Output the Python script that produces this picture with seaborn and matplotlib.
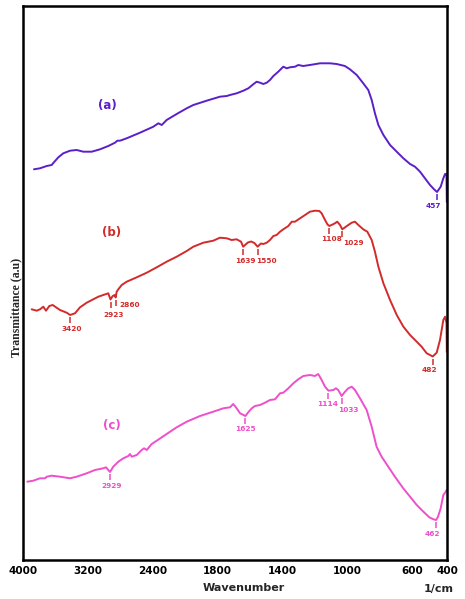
import numpy as np
import matplotlib
matplotlib.use("Agg")
import matplotlib.pyplot as plt
import seaborn as sns

# ---------------- data ----------------
A_WN = [3865, 3791, 3708, 3647, 3627, 3565, 3504, 3421, 3339, 3258, 3154, 3052, 2950, 2868,
        2839, 2806, 2724, 2560, 2397, 2350, 2318, 2272, 2178, 2084, 2022, 1897, 1782, 1740,
        1720, 1679, 1638, 1607, 1577, 1556, 1535, 1515, 1494, 1474, 1453, 1423, 1392, 1371,
        1351, 1320, 1300, 1269, 1217, 1166, 1105, 1064, 1013, 982, 940, 900, 869, 848, 828,
        807, 776, 735, 694, 653, 612, 583, 554, 526, 497, 474, 457, 436, 421, 411, 403, 401]
A_T = [390.7, 391.7, 394, 395, 397, 402.7, 406.7, 409.3, 410, 408.3, 408.3, 410.7, 414, 417.3,
       419.3, 419.3, 421.7, 427.3, 433.3, 436.7, 435, 440, 446, 451.7, 455, 459.3, 463.3, 464,
       465, 466.7, 469.3, 471.7, 475.7, 478.3, 477.3, 476, 477.3, 480, 484, 488.3, 493.3, 491.7,
       492.7, 493.3, 495, 494, 495.3, 496.7, 496.7, 496, 494, 490.7, 485, 476.7, 470, 460, 446.7,
       435, 425, 415, 408.3, 401.7, 396, 393.3, 388.3, 381.7, 375, 370.7, 368, 373.3, 381.7, 386,
       386, 358]

B_WN = [3893, 3831, 3791, 3750, 3717, 3676, 3634, 3594, 3545, 3462, 3420, 3360, 3298, 3216,
        3135, 3073, 3012, 2950, 2923, 2896, 2870, 2860, 2847, 2827, 2785, 2724, 2600, 2477,
        2365, 2272, 2178, 2084, 2022, 1928, 1835, 1782, 1740, 1710, 1679, 1652, 1639, 1610,
        1590, 1570, 1550, 1530, 1515, 1494, 1474, 1453, 1433, 1412, 1392, 1361, 1340, 1320,
        1289, 1258, 1228, 1197, 1170, 1156, 1135, 1120, 1108, 1074, 1060, 1043, 1029, 992,
        971, 951, 930, 900, 875, 848, 828, 807, 776, 735, 694, 653, 612, 573, 545, 516, 497,
        482, 459, 440, 421, 411, 403, 401]
B_T = [250.7, 249.3, 250.7, 253.3, 249.3, 254, 255, 252.7, 250, 247.3, 245, 246.7, 252.7, 257.3,
       260.7, 263.3, 265, 266.7, 260.5, 264, 265, 262.5, 268.3, 270.7, 275, 278.3, 282.7, 287.3,
       292.7, 298.3, 303.3, 309, 313.3, 317.3, 319.3, 322.3, 321.7, 320, 320.7, 318.3, 313.3, 317.5,
       318.5, 317, 313.3, 316.5, 316, 317.3, 320, 324, 325, 328.3, 330.7, 334, 338.3, 338.3,
       341.7, 345, 348.3, 349.3, 349, 346.7, 340, 335.5, 334, 336.7, 338.3, 335, 330.7, 335,
       337.3, 338.3, 335, 330.7, 328.3, 320, 308.3, 293.3, 276.7, 260, 245, 233.3, 225, 218.3,
       213.3, 206.7, 205, 203.5, 207.3, 220, 240, 243.3, 237, 208]

C_WN = [3947, 3873, 3791, 3729, 3708, 3647, 3545, 3421, 3339, 3216, 3114, 3012, 2978, 2950,
        2929, 2889, 2827, 2765, 2704, 2683, 2662, 2600, 2539, 2510, 2477, 2416, 2365, 2272,
        2178, 2084, 1959, 1835, 1761, 1720, 1700, 1679, 1658, 1625, 1605, 1586, 1566, 1535,
        1505, 1474, 1443, 1412, 1392, 1361, 1330, 1300, 1269, 1228, 1197, 1177, 1156, 1135,
        1114, 1084, 1068, 1054, 1033, 1012, 992, 971, 951, 920, 879, 848, 818, 787, 746, 705,
        654, 612, 573, 535, 501, 478, 462, 452, 436, 421, 411, 402]
C_T = [78.3, 79.3, 81.7, 81.7, 83.3, 84.3, 83.3, 81.7, 83.3, 86.7, 90, 91.7, 92.7, 90,
       88, 93.3, 98.3, 101.7, 104, 106, 103.3, 105, 110, 111.7, 110, 116, 119.3, 126,
       132.7, 138.3, 144, 148.3, 151.7, 152.7, 156, 151.7, 146.7, 144, 148.3, 151.7, 154, 155,
       157.3, 160, 160.7, 166.7, 167.3, 171.7, 176.7, 180.7, 184, 185, 184, 186, 180, 173.3,
       169.3, 170, 171.7, 170, 164, 168.3, 171.7, 173.3, 170, 161.7, 150, 133.3, 113.3, 103.3,
       93.3, 83.3, 71.7, 63.3, 55, 48.3, 42.7, 40.7, 40, 43, 51.7, 65, 67.3, 70]

PEAKS_A = [457]
PEAKS_B = [3420, 2923, 2860, 1639, 1550, 1108, 1029, 482]
PEAKS_C = [2929, 1625, 1114, 1033, 462]

SERIES_LABELS = ["(a)", "(b)", "(c)"]
SERIES_LABEL_WN = [2966, 2908, 2908]
SERIES_LABEL_T = [455, 327.7, 135]

TICK_WN = [4000, 3200, 2400, 1800, 1400, 1000, 600, 400]
TICK_LABELS = ["4000", "3200", "2400", "1800", "1400", "1000", "600", "400"]

# ---------------- style ----------------
COL_A = "#5b1fc7"
COL_B = "#d22b2b"
COL_C = "#ee4fcb"

# label offsets (dx px, dy px below tick bottom, ha)
OFF_A = [(-4, 6, "center")]
OFF_B = [(2, 6, "center"), (3, 7.5, "center"), (4, -0.5, "left"), (2, 6, "center"),
         (9, 6, "center"), (2, 5, "center"), (1, 5.5, "left"), (-3, 6, "center")]
OFF_C = [(2, 6, "center"), (0, 5, "center"), (-1, 5.5, "center"), (7, 6.5, "center"),
         (-3.5, 6, "center")]

sns.set_style("white")
plt.rcParams["font.family"] = ["DejaVu Sans"]

# non-uniform wavenumber axis (equal spacing between tick labels)
AXIS_WN = np.array([400, 600, 1000, 1400, 1800, 2400, 3200, 4000], float)
AXIS_POS = np.array([0, 35, 100, 165, 230, 294, 359, 424], float)


def fwd(x):
    return np.interp(np.asarray(x, float), AXIS_WN, AXIS_POS)


def inv(p):
    return np.interp(np.asarray(p, float), AXIS_POS, AXIS_WN)


fig = plt.figure(figsize=(4.65, 5.99), dpi=100)
ax = fig.add_axes([23 / 465, 39 / 599, 424 / 465, 554 / 599])
ax.set_xscale("function", functions=(fwd, inv))

for wn, t, col in [(A_WN, A_T, COL_A), (B_WN, B_T, COL_B), (C_WN, C_T, COL_C)]:
    sns.lineplot(x=wn, y=t, color=col, lw=1.4, ax=ax, estimator=None, sort=False)

ax.set_xlim(4000, 400)
ax.set_ylim(0, 554)
ax.set_yticks([])
ax.set_xticks(TICK_WN)
ax.set_xticklabels(TICK_LABELS, fontweight="bold", fontsize=7.5)
ax.xaxis.set_minor_locator(matplotlib.ticker.NullLocator())
ax.tick_params(axis="x", direction="inout", length=5, width=1.2, pad=2, colors="black")
for s in ax.spines.values():
    s.set_color("black")
    s.set_linewidth(1.8)

# peak markers
for wn, t, peaks, offs, col in [(A_WN, A_T, PEAKS_A, OFF_A, COL_A),
                                (B_WN, B_T, PEAKS_B, OFF_B, COL_B),
                                (C_WN, C_T, PEAKS_C, OFF_C, COL_C)]:
    xs = np.array(wn[::-1], float)
    ys = np.array(t[::-1], float)
    for p, (dx, dy, ha) in zip(peaks, offs):
        yc = np.interp(p, xs, ys)
        top, bot = yc - 2, yc - 8
        ax.vlines(p, bot, top, color=col, lw=1.1)
        xl = inv(fwd(p) - dx)
        ax.text(xl, bot - dy, str(p), color=col, fontsize=5.3, fontweight="bold",
                ha=ha, va="center")

for lab, x, y, col in zip(SERIES_LABELS, SERIES_LABEL_WN, SERIES_LABEL_T, [COL_A, COL_B, COL_C]):
    ax.text(x, y, lab, color=col, fontsize=8.5, fontweight="bold", ha="center", va="center")

ax.set_xlabel("Wavenumber", fontsize=8, fontweight="bold")
ax.xaxis.set_label_coords(0.521, -0.0505)
ax.xaxis.label.set_verticalalignment("center")
ax.text(0.981, -0.052, "1/cm", transform=ax.transAxes, fontsize=8, fontweight="bold",
        ha="center", va="center")
ax.set_ylabel("Transmittance (a.u)", fontsize=8.5, family="Liberation Serif",
              fontweight="bold")
ax.yaxis.set_label_coords(-0.0165, 0.455)
ax.yaxis.label.set_verticalalignment("center")

fig.savefig("out.png", dpi=100)
